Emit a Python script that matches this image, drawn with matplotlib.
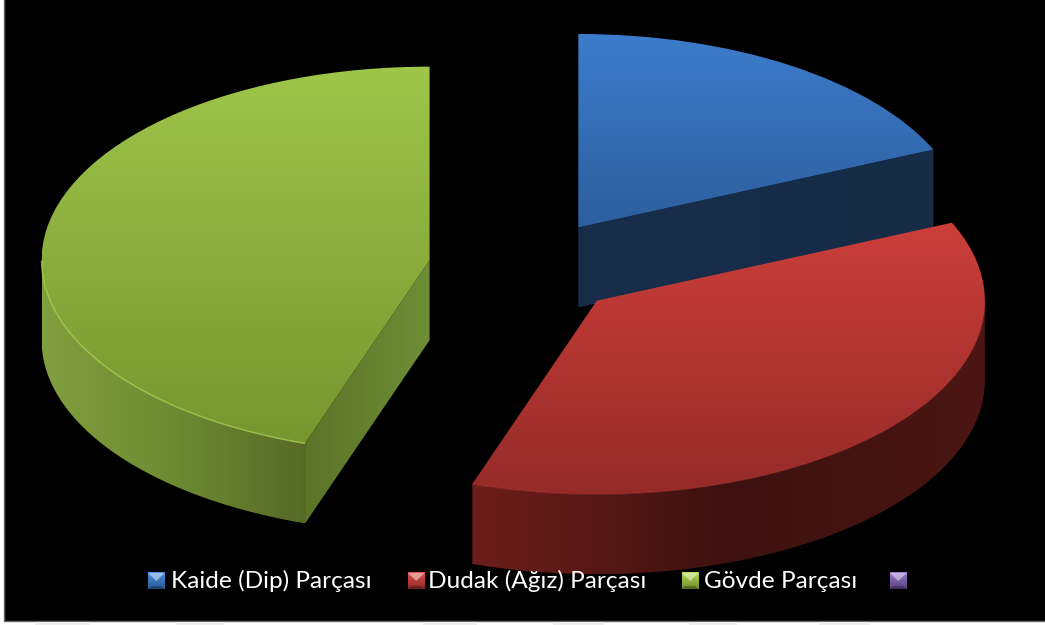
import numpy as np
import matplotlib.pyplot as plt
from matplotlib.colors import LinearSegmentedColormap
from matplotlib.patches import Polygon, Rectangle

W, H = 1045, 625

# dilim yuzdeleri, son kategori bos
labels = ['Kaide (Dip) Parçası', 'Dudak (Ağız) Parçası', 'Gövde Parçası', '']
values = [18.4, 36.8, 44.8, 0]
explode = [0.25, 0.25, 0.25, 0]

# ust yuz / kesit / dis yuz renkleri
top_colors = [('#3D7CCB', '#2C5F9E'), ('#CC3E3A', '#952B28'), ('#9FC54A', '#76962F')]
cut_colors = [('#172D4A', '#162B46'), ('#5A1A18', '#5A1A18'), ('#5B7428', '#6E8E35')]
side_colors = [('#162B46', '#162B46'),
               ('#6E1E1B', '#3C110F', '#4C1614'),
               ('#829F3E', '#6C8B32', '#566A26')]
rim_colors = ['#4A8ADB', '#C8443F', '#B5DB58']
rim_alpha = [0.0, 0.35, 0.75]
swatch_colors = [('#4A8FE0', '#2A5A96'), ('#E0504A', '#8E2A27'),
                 ('#B4DC50', '#6F8E2E'), ('#A07CD6', '#55407A')]
swatch_x = [148, 408, 682, 890]
text_x = [171, 428, 704]

cx, cy = 525.3, 268   # pasta merkezi (piksel)
rx, ry = 388, 193.5
depth = 80 / ry

fig = plt.figure(figsize=(W / 100, H / 100), dpi=100, facecolor='white')

# arka plan, piksel koordinatlari
bg = fig.add_axes([0, 0, 1, 1], zorder=0)
bg.set_xlim(0, W)
bg.set_ylim(H, 0)
bg.axis('off')
bg.add_patch(Rectangle((3.5, -2), W, 622.5, fc='black', ec='#666666', lw=1))
for a, b in [(35, 90), (176, 224), (423, 477), (553, 604), (689, 737), (819, 870)]:
    bg.add_patch(Rectangle((a, 621.5), b - a, 5, fc='#EEEEEE', ec='none'))

# pasta, eksen olcekleri elipsi veriyor
ax = fig.add_axes([0, 0, 1, 1], zorder=1)
ax.patch.set_alpha(0)
wedges, _ = ax.pie(values, explode=explode, startangle=90, counterclock=False,
                   radius=1, colors=['#3F7FD0', '#C23A36', '#8DB040', '#8064A2'])
ax.set_aspect('auto')
xlim = (-cx / rx, (W - cx) / rx)
ylim = ((cy - H) / ry, cy / ry)


def fill(patch, colors, z, vertical=True):
    # patch'i gradyanla doldur
    if patch.axes is None:
        ax.add_patch(patch)
    patch.set(facecolor='none', edgecolor='none', zorder=z)
    bb = patch.get_path().transformed(patch.get_patch_transform()).get_extents()
    cmap = LinearSegmentedColormap.from_list('g', colors)
    g = np.linspace(0, 1, 256)
    g = g[:, None] if vertical else g[None, :]
    im = ax.imshow(g, cmap=cmap, extent=[bb.x0, bb.x1, bb.y0, bb.y1], origin='upper',
                   aspect='auto', zorder=z, interpolation='bilinear')
    im.set_clip_path(patch)


def arc(w, t):
    t = np.radians(t)
    return np.column_stack([w.center[0] + w.r * np.cos(t), w.center[1] + w.r * np.sin(t)])


z = 2
for i, w in enumerate(wedges[:3]):
    t1, t2 = w.theta1, w.theta2
    c = np.array(w.center)
    mid = np.radians((t1 + t2) / 2)
    # kesit yuzleri: normali izleyiciye donuk olanlar
    for t in (t1, t2):
        p = arc(w, [t])[0]
        d = p - c
        n = np.array([d[1], -d[0]])
        if n @ np.array([np.cos(mid), np.sin(mid)]) > 0:
            n = -n
        if n[1] < 0:
            q = np.array([c, p, p - [0, depth], c - [0, depth]])
            fill(Polygon(q, closed=True), cut_colors[i], z, vertical=False)
    z += 1
    # dis yuz: sadece on yari
    ts = np.linspace(t1, t2, 300)
    ts = ts[np.sin(np.radians(ts)) < 0]
    if len(ts):
        up = arc(w, ts)
        down = up[::-1] - [0, depth]
        fill(Polygon(np.vstack([up, down]), closed=True), side_colors[i], z, vertical=False)
    z += 1
    fill(w, top_colors[i], z)
    z += 1
    if len(ts):
        ax.plot(*arc(w, ts).T, color=rim_colors[i], lw=1.0, alpha=rim_alpha[i], zorder=z,
                solid_capstyle='butt')
    z += 1

ax.set_xlim(*xlim)
ax.set_ylim(*ylim)
ax.axis('off')

# lejant
lg = fig.add_axes([0, 0, 1, 1], zorder=2)
lg.patch.set_alpha(0)
lg.axis('off')
for x, col in zip(swatch_x, swatch_colors):
    cmap = LinearSegmentedColormap.from_list('s', [col[0], col[1]])
    lg.imshow(np.linspace(0, 1, 32)[:, None], cmap=cmap, extent=[x, x + 16.5, 589.5, 573],
              aspect='auto', zorder=1)
    lg.add_patch(Polygon([(x, 573), (x + 16.5, 573), (x + 8.25, 581)], fc='white', ec='none',
                         alpha=0.45, zorder=2))
    lg.add_patch(Polygon([(x, 589.5), (x + 16.5, 589.5), (x + 13.5, 586), (x + 3, 586)], fc='black',
                         ec='none', alpha=0.25, zorder=2))
lg.set_xlim(0, W)
lg.set_ylim(H, 0)
for x, s in zip(text_x, labels):
    lg.text(x, 581, s, color='white', fontsize=17.6, family='Lato', va='center', ha='left')

fig.savefig('out.png', dpi=100, facecolor='white')
